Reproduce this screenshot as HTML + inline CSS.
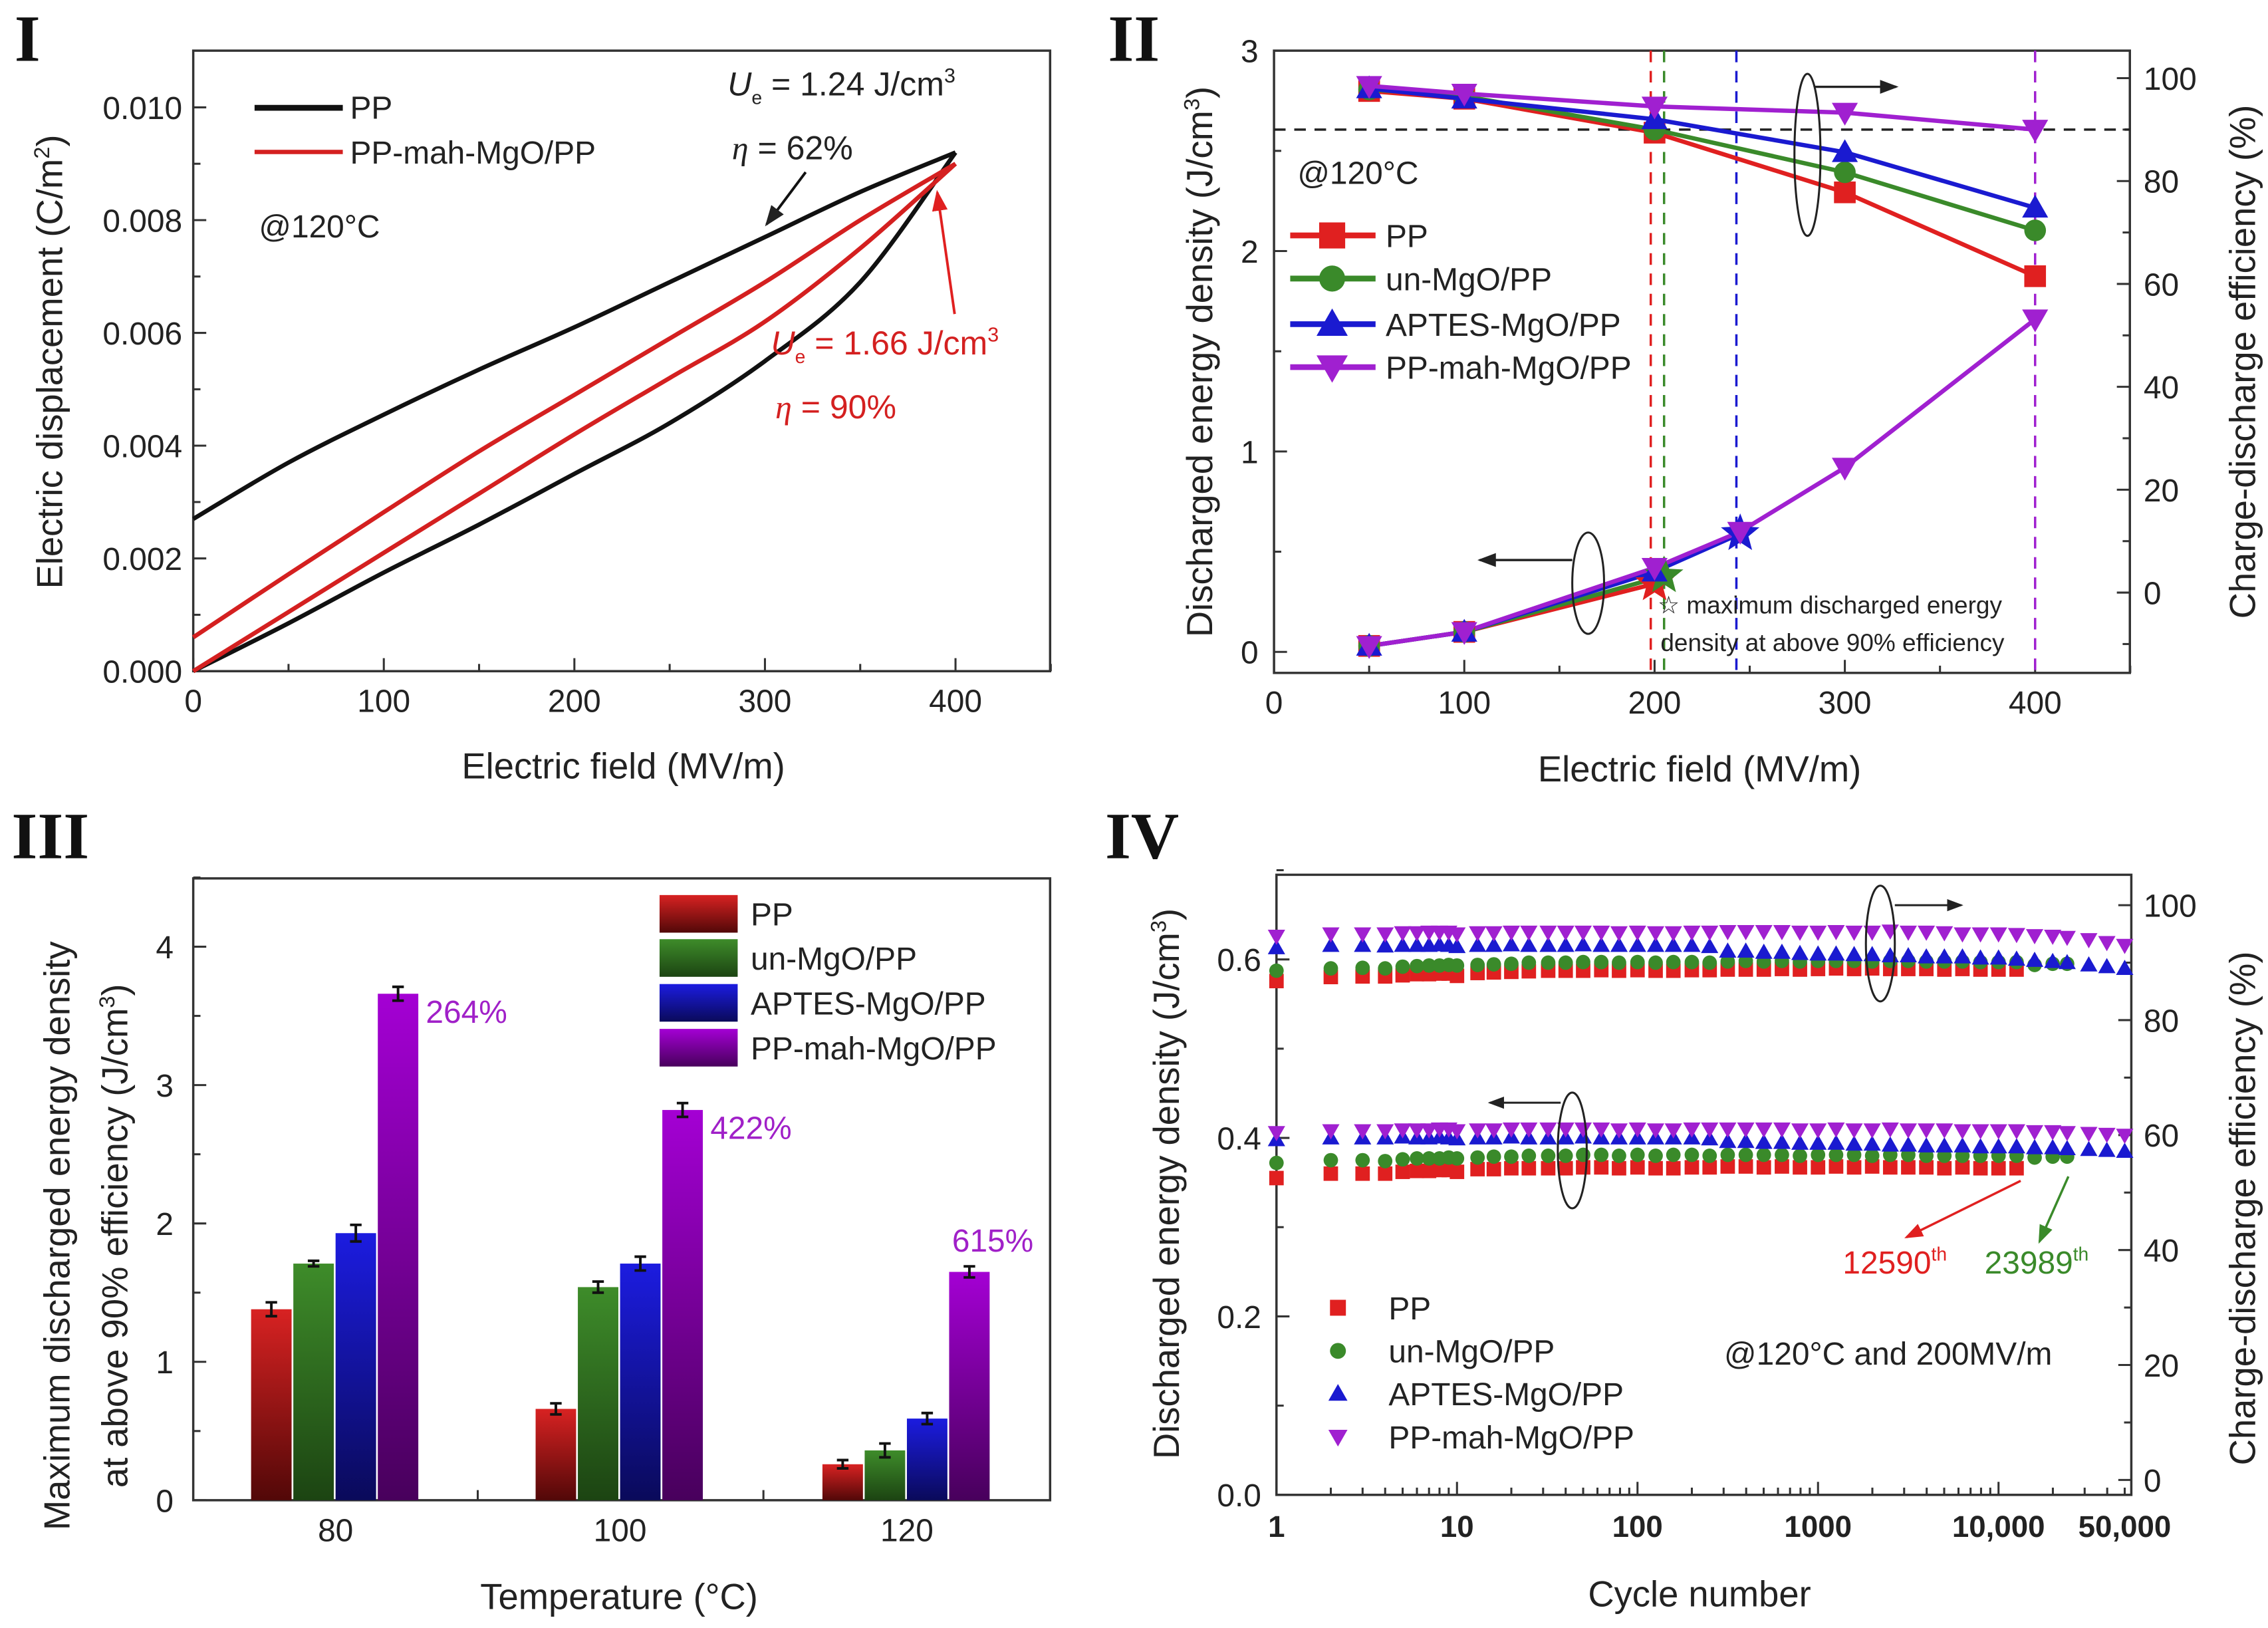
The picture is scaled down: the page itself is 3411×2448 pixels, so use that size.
<!DOCTYPE html>
<html><head><meta charset="utf-8"><style>
html,body{margin:0;padding:0;background:#fff;}
svg{display:block;}
text{font-family:"Liberation Sans",sans-serif;fill:#222;}
.lab{font-family:"Liberation Serif",serif;font-weight:bold;fill:#111;}
</style></head><body>
<svg id="fig" width="3411" height="2448" viewBox="0 0 1568 1125" preserveAspectRatio="none" xmlns="http://www.w3.org/2000/svg">
<defs>
<linearGradient id="gR" x1="0" y1="0" x2="0" y2="1"><stop offset="0" stop-color="#d82222"/><stop offset="1" stop-color="#520808"/></linearGradient>
<linearGradient id="gG" x1="0" y1="0" x2="0" y2="1"><stop offset="0" stop-color="#3e8c2a"/><stop offset="1" stop-color="#1c4412"/></linearGradient>
<linearGradient id="gB" x1="0" y1="0" x2="0" y2="1"><stop offset="0" stop-color="#1c1ce0"/><stop offset="1" stop-color="#0a0a5a"/></linearGradient>
<linearGradient id="gP" x1="0" y1="0" x2="0" y2="1"><stop offset="0" stop-color="#a400d4"/><stop offset="1" stop-color="#48005c"/></linearGradient>
<marker id="ah" markerWidth="8" markerHeight="8" refX="7" refY="4" orient="auto"><path d="M0,1 L8,4 L0,7 Z" fill="#222"/></marker>
<marker id="ahr" markerWidth="8" markerHeight="8" refX="7" refY="4" orient="auto"><path d="M0,1 L8,4 L0,7 Z" fill="#e02020"/></marker>
<marker id="ahg" markerWidth="8" markerHeight="8" refX="7" refY="4" orient="auto"><path d="M0,1 L8,4 L0,7 Z" fill="#3a8a2a"/></marker>
</defs>
</svg>
<script>
// ===== Panel I data =====
const p1Fields=[0,50,100,150,200,250,300,350,400];
const p1PPup=[0.0027,0.0037,0.00455,0.00535,0.0061,0.0069,0.0077,0.0085,0.0092];
const p1PPdown=[0,0.00085,0.00175,0.0026,0.0035,0.0044,0.0055,0.0069,0.0092];
const p1MahUp=[0.0006,0.00172,0.00282,0.0039,0.0049,0.0059,0.0069,0.008,0.009];
const p1MahDown=[0,0.00105,0.0021,0.00315,0.0042,0.0052,0.0062,0.0075,0.009];
const p1XTicks=[0,100,200,300,400];
const p1YTicks=[0,0.002,0.004,0.006,0.008,0.010];
const p1YTickLabels=["0.000","0.002","0.004","0.006","0.008","0.010"];
// ===== Panel II data =====
const p2Fields=[50,100,200,300,400];
const p2EffPP=[97.5,96,89.4,77.8,61.5];
const p2EffUn=[97.8,96.5,90,81.7,70.4];
const p2EffAp=[98,96,92,85.6,74.8];
const p2EffMah=[98.5,97,94.5,93.3,90];
const p2EnPPx=[50,100,200]; const p2EnPP=[0.03,0.1,0.34];
const p2EnUnx=[50,100,205]; const p2EnUn=[0.03,0.1,0.38];
const p2EnApx=[50,100,200,245]; const p2EnAp=[0.03,0.1,0.4,0.59];
const p2EnMahx=[50,100,200,245,300,400]; const p2EnMah=[0.03,0.1,0.42,0.6,0.92,1.66];
const p2Limits=[198,205,243,400];
const p2XTicks=[0,100,200,300,400];
const p2LTicks=[0,1,2,3];
const p2RTicks=[0,20,40,60,80,100];
// ===== Panel III data =====
const p3Temps=["80","100","120"];
const p3PP=[1.38,0.66,0.26];
const p3Un=[1.71,1.54,0.36];
const p3Ap=[1.93,1.71,0.59];
const p3Mah=[3.66,2.82,1.65];
const p3ErrPP=[0.05,0.04,0.03];
const p3ErrUn=[0.02,0.04,0.05];
const p3ErrAp=[0.06,0.05,0.04];
const p3ErrMah=[0.05,0.05,0.04];
const p3Pct=["264%","422%","615%"];
const p3YTicks=[0,1,2,3,4];
// ===== Panel IV data =====
const p4Cycles=[1,2,3,4,5,6,7,8,9,10,13,16,20,25,32,40,50,63,79,100,126,158,200,251,316,398,501,631,794,1000,1259,1585,1995,2512,3162,3981,5012,6310,7943,10000,12590,15849,19953,23989,31623,39811,50000];
const p4EnPP=[0.355,0.36,0.36,0.36,0.362,0.363,0.363,0.364,0.364,0.362,0.365,0.365,0.366,0.366,0.366,0.366,0.367,0.367,0.366,0.367,0.366,0.366,0.367,0.367,0.368,0.368,0.367,0.368,0.367,0.367,0.368,0.367,0.368,0.367,0.367,0.367,0.366,0.367,0.366,0.366,0.366];
const p4EnUn=[0.372,0.375,0.375,0.374,0.376,0.377,0.377,0.377,0.378,0.377,0.378,0.379,0.379,0.38,0.38,0.38,0.381,0.381,0.38,0.381,0.38,0.381,0.381,0.38,0.381,0.381,0.381,0.381,0.38,0.381,0.381,0.381,0.38,0.381,0.381,0.38,0.38,0.38,0.38,0.38,0.38,0.378,0.379,0.379];
const p4EnAp=[0.398,0.4,0.4,0.4,0.401,0.4,0.4,0.401,0.4,0.399,0.4,0.4,0.401,0.4,0.4,0.4,0.401,0.4,0.4,0.4,0.4,0.4,0.4,0.399,0.396,0.396,0.395,0.395,0.394,0.394,0.394,0.393,0.393,0.392,0.392,0.391,0.391,0.391,0.39,0.39,0.39,0.389,0.389,0.388,0.387,0.386,0.385];
const p4EnMah=[0.406,0.408,0.408,0.408,0.409,0.409,0.409,0.41,0.41,0.408,0.409,0.409,0.41,0.41,0.41,0.41,0.41,0.41,0.409,0.41,0.409,0.409,0.41,0.41,0.41,0.41,0.41,0.41,0.409,0.409,0.41,0.409,0.409,0.41,0.409,0.409,0.409,0.408,0.408,0.408,0.408,0.407,0.407,0.406,0.405,0.404,0.403];
const p4EfPP=[86.8,87.5,87.6,87.6,87.8,88,88,88.1,88.1,87.7,88.2,88.3,88.4,88.5,88.6,88.6,88.6,88.7,88.6,88.7,88.6,88.6,88.7,88.7,88.8,88.8,88.8,88.9,88.8,88.9,89,88.9,89,88.9,88.9,88.9,88.8,88.9,88.8,88.8,88.8];
const p4EfUn=[88.6,89,89.1,89,89.3,89.4,89.5,89.5,89.6,89.5,89.6,89.7,89.8,90,90,90,90.1,90.1,90,90.1,90,90.1,90.1,90,90.2,90.3,90.2,90.3,90.2,90.3,90.3,90.3,90.2,90.3,90.3,90.2,90.2,90.2,90.1,90.1,90.1,89.6,89.8,89.8];
const p4EfAp=[92.6,93,93,92.9,93,93,93,93.1,93,92.8,93,93,93.1,93,93,93,93.1,93,93,93,93,93,93,92.8,92,92,91.8,91.8,91.6,91.5,91.5,91.4,91.4,91.2,91.2,91,91,91,90.8,90.8,90.6,90.4,90.2,90,89.6,89.3,89];
const p4EfMah=[94.6,95,95,95,95.2,95.2,95.3,95.3,95.3,95,95.2,95.2,95.3,95.3,95.3,95.3,95.3,95.3,95.2,95.3,95.2,95.2,95.3,95.3,95.4,95.4,95.4,95.4,95.3,95.3,95.4,95.3,95.3,95.5,95.3,95.3,95.2,95,95,95,94.9,94.7,94.6,94.4,94,93.5,93];
const p4XTicks=[1,10,100,1000,10000,50000];
const p4XTickLabels=["1","10","100","1000","10,000","50,000"];
const p4LTicks=[0,0.2,0.4,0.6];
const p4LTickLabels=["0.0","0.2","0.4","0.6"];
const p4RTicks=[0,20,40,60,80,100];

const NS="http://www.w3.org/2000/svg";
const svg=document.getElementById('fig');
function el(tag,attrs,parent){const e=document.createElementNS(NS,tag);for(const k in attrs)e.setAttribute(k,attrs[k]);(parent||svg).appendChild(e);return e;}
function txt(s,x,y,size,attrs,parent){const t=el('text',Object.assign({x:x,y:y,'font-size':size},attrs||{}),parent);t.textContent=s;return t;}
function lin(d0,d1,r0,r1){return v=>r0+(v-d0)/(d1-d0)*(r1-r0);}
function smooth(pts){let d="M"+pts[0][0]+","+pts[0][1];for(let i=0;i<pts.length-1;i++){const p0=pts[i-1]||pts[i],p1=pts[i],p2=pts[i+1],p3=pts[i+2]||p2;d+=" C"+(p1[0]+(p2[0]-p0[0])/6)+","+(p1[1]+(p2[1]-p0[1])/6)+" "+(p2[0]-(p3[0]-p1[0])/6)+","+(p2[1]-(p3[1]-p1[1])/6)+" "+p2[0]+","+p2[1];}return d;}
function frame(x0,y0,x1,y1,g){const r=el('rect',{x:x0,y:y0,width:x1-x0,height:y1-y0,fill:'none',stroke:'#333','stroke-width':1.6},g);}
function tick(x1,y1,x2,y2,g){el('line',{x1:x1,y1:y1,x2:x2,y2:y2,stroke:'#333','stroke-width':1.4},g);}
function marker(shape,x,y,s,color,g){
  let m;
  if(shape==='sq')m=el('rect',{x:x-s/2,y:y-s/2,width:s,height:s,fill:color},g);
  else if(shape==='ci')m=el('circle',{cx:x,cy:y,r:s/2,fill:color},g);
  else if(shape==='tu')m=el('polygon',{points:`${x},${y-s*0.6} ${x-s*0.6},${y+s*0.45} ${x+s*0.6},${y+s*0.45}`,fill:color},g);
  else if(shape==='td')m=el('polygon',{points:`${x},${y+s*0.6} ${x-s*0.6},${y-s*0.45} ${x+s*0.6},${y-s*0.45}`,fill:color},g);
  else {let p=[];for(let i=0;i<10;i++){const a=-Math.PI/2+i*Math.PI/5,r=i%2?s*0.3:s*0.7;p.push((x+r*Math.cos(a))+","+(y+r*Math.sin(a)));}m=el('polygon',{points:p.join(' '),fill:color},g);}
  return m;
}
function panelLabel(s,x,y){const t=txt(s,x,y,46,{class:'lab'});}

// ================= PANEL I =================
(function(){
const g=el('g',{});
const X0=133.6,X1=726,Y0=35,Y1=463.8;
const xs=lin(0,400,133.6,660.6), ys=lin(0,0.010,463.8,74.2);
frame(X0,Y0,X1,Y1,g);
for(let v=0;v<=450;v+=50){const x=xs(v);tick(x,Y1,x,Y1-(v%100?5:9),g);}
for(let v=0;v<=0.0105;v+=0.001){const y=ys(v);tick(X0,y,X0+(Math.round(v*1000)%2?5:9),y,g);}
p1XTicks.forEach(v=>{const t=txt(String(v),xs(v),492,22,{'text-anchor':'middle'},g);});
p1YTicks.forEach((v,i)=>{const t=txt(p1YTickLabels[i],126,ys(v)+8,22,{'text-anchor':'end'},g);});
let t=txt('Electric field (MV/m)',431,538,25,{'text-anchor':'middle'},g);
t=el('text',{x:0,y:0,'font-size':25,'text-anchor':'middle',transform:'translate(43,250) rotate(-90)'},g);t.innerHTML='Electric displacement (C/m<tspan font-size="15" dy="-9">2</tspan><tspan dy="9">)</tspan>';
const series=[[p1PPup,'#111','pp-discharge-curve'],[p1PPdown,'#111','pp-charge-curve'],[p1MahUp,'#d42020','mah-discharge-curve'],[p1MahDown,'#d42020','mah-charge-curve']];
series.forEach(s=>{const p=el('path',{d:smooth(p1Fields.map((f,i)=>[xs(f),ys(s[0][i])])),fill:'none',stroke:s[1],'stroke-width':3},g);});
let l=el('line',{x1:176,y1:74.5,x2:237,y2:74.5,stroke:'#111','stroke-width':4},g);
t=txt('PP',242,82,22,{},g);
l=el('line',{x1:176,y1:105,x2:237,y2:105,stroke:'#d42020','stroke-width':3},g);
t=txt('PP-mah-MgO/PP',242,113,22,{},g);
t=txt('@120°C',179,164,22,{},g);
t=el('text',{x:503,y:66,'font-size':23},g);t.innerHTML='<tspan font-style="italic">U</tspan><tspan font-size="13" dy="6">e</tspan><tspan dy="-6"> = 1.24 J/cm</tspan><tspan font-size="14" dy="-9">3</tspan>';
t=el('text',{x:506,y:110,'font-size':23},g);t.innerHTML='<tspan font-style="italic" font-family="Liberation Serif">η</tspan> = 62%';
l=el('line',{x1:557,y1:119,x2:530,y2:155,stroke:'#111','stroke-width':1.8,'marker-end':'url(#ah)'},g);
t=el('text',{x:533,y:245,'font-size':23,fill:'#d42020'},g);t.innerHTML='<tspan font-style="italic" fill="#d42020">U</tspan><tspan font-size="13" dy="6" fill="#d42020">e</tspan><tspan dy="-6" fill="#d42020"> = 1.66 J/cm</tspan><tspan font-size="14" dy="-9" fill="#d42020">3</tspan>';t.style.fill='#d42020';
t=el('text',{x:536,y:289,'font-size':23},g);t.innerHTML='<tspan font-style="italic" font-family="Liberation Serif" fill="#d42020">η</tspan><tspan fill="#d42020"> = 90%</tspan>';
l=el('line',{x1:660,y1:217,x2:648,y2:133,stroke:'#e02020','stroke-width':1.8,'marker-end':'url(#ahr)'},g);
})();
panelLabel('I',10,42);

// ================= PANEL II =================
(function(){
const g=el('g',{});
const X0=880.8,X1=1472.5,Y0=35,Y1=465;
const xs=lin(0,400,880.8,1407), yl=lin(0,3,450.5,35), yr=lin(0,100,409.5,54);
frame(X0,Y0,X1,Y1,g);
for(let v=0;v<=450;v+=50){const x=xs(v);tick(x,Y1,x,Y1-(v%100?5:9),g);}
for(let v=0;v<=3;v+=0.5){const y=yl(v);tick(X0,y,X0+(v%1?5:9),y,g);}
for(let v=-10;v<=100;v+=10){const y=yr(v);tick(X1,y,X1-(v%20?5:9),y,g);}
p2XTicks.forEach(v=>{const t=txt(String(v),xs(v),493,22,{'text-anchor':'middle'},g);});
p2LTicks.forEach(v=>{const t=txt(String(v),870,yl(v)+8,22,{'text-anchor':'end'},g);});
p2RTicks.forEach(v=>{const t=txt(String(v),1482,yr(v)+8,22,{},g);});
let t=txt('Electric field (MV/m)',1175,540,25,{'text-anchor':'middle'},g);
t=el('text',{x:0,y:0,'font-size':25,'text-anchor':'middle',transform:'translate(838,250) rotate(-90)'},g);t.innerHTML='Discharged energy density (J/cm<tspan font-size="15" dy="-9">3</tspan><tspan dy="9">)</tspan>';
t=el('text',{x:0,y:0,'font-size':25,'text-anchor':'middle',transform:'translate(1559,250) rotate(-90)'},g);t.textContent='Charge-discharge efficiency (%)';
let l=el('line',{x1:X0,y1:yr(90),x2:X1,y2:yr(90),stroke:'#222','stroke-width':1.6,'stroke-dasharray':'8,6'},g);
const lc=['#e02020','#3a8a2a','#1a1ad0','#a020d0'];
p2Limits.forEach((v,i)=>{const d=el('line',{x1:xs(v),y1:Y0,x2:xs(v),y2:Y1,stroke:lc[i],'stroke-width':1.6,'stroke-dasharray':'8,6'},g);});
const cols=['#e02020','#3a8a2a','#1a1ad0','#a020d0'];
const shapes=['sq','ci','tu','td'];
const eff=[p2EffPP,p2EffUn,p2EffAp,p2EffMah];
const names=['pp','un-mgo','aptes-mgo','mah-mgo'];
eff.forEach((s,k)=>{const p=el('polyline',{points:p2Fields.map((f,i)=>xs(f)+','+yr(s[i])).join(' '),fill:'none',stroke:cols[k],'stroke-width':3},g);
 p2Fields.forEach((f,i)=>{const m=marker(shapes[k],xs(f),yr(s[i]),15,cols[k],g);});});
const enx=[p2EnPPx,p2EnUnx,p2EnApx,p2EnMahx], eny=[p2EnPP,p2EnUn,p2EnAp,p2EnMah];
enx.forEach((xsr,k)=>{const p=el('polyline',{points:xsr.map((f,i)=>xs(f)+','+yl(eny[k][i])).join(' '),fill:'none',stroke:cols[k],'stroke-width':3},g);});
enx.forEach((xsr,k)=>{xsr.forEach((f,i)=>{const last=(i===xsr.length-1&&k<3);const m=marker(last?'st':shapes[k],xs(f),yl(eny[k][i]),last?20:15,cols[k],g);});});
const ln=['PP','un-MgO/PP','APTES-MgO/PP','PP-mah-MgO/PP'], ly=[162.7,192.5,224,253.7];
ln.forEach((s,k)=>{const a=el('line',{x1:892,y1:ly[k],x2:951,y2:ly[k],stroke:cols[k],'stroke-width':4},g);
 const m=marker(shapes[k],921,ly[k],18,cols[k],g);
 const tt=txt(s,958,ly[k]+8,22,{},g);});
t=txt('@120°C',897,127,22,{},g);
t=txt('☆ maximum discharged energy',1146,424,17,{},g);
t=txt('density at above 90% efficiency',1148,450,17,{},g);
let e=el('ellipse',{cx:1249.6,cy:107,rx:9,ry:56,fill:'none',stroke:'#222','stroke-width':1.4},g);
l=el('line',{x1:1255,y1:60,x2:1311,y2:60,stroke:'#222','stroke-width':1.6,'marker-end':'url(#ah)'},g);
e=el('ellipse',{cx:1098,cy:403,rx:11,ry:35,fill:'none',stroke:'#222','stroke-width':1.4},g);
l=el('line',{x1:1087,y1:387,x2:1023,y2:387,stroke:'#222','stroke-width':1.6,'marker-end':'url(#ah)'},g);
})();
panelLabel('II',766,42);

// ================= PANEL III =================
(function(){
const g=el('g',{});
const X0=133.6,X1=726,Y0=607,Y1=1036.7;
const ys=lin(0,4,1036.7,654.2);
const cx=[232,428.7,627];
frame(X0,Y0,X1,Y1,g);
for(let v=0;v<=4.5;v+=0.5){const y=ys(v);tick(X0,y,X0+(v%1?5:9),y,g);}
[330.3,527.8].forEach(x=>tick(x,Y1,x,Y1-7,g));
p3YTicks.forEach(v=>{const t=txt(String(v),120,ys(v)+8,22,{'text-anchor':'end'},g);});
p3Temps.forEach((s,i)=>{const t=txt(s,cx[i],1065,22,{'text-anchor':'middle'},g);});
let t=el('text',{x:428,y:1112,'font-size':25,'text-anchor':'middle'},g);t.textContent='Temperature (°C)';
t=el('text',{x:0,y:0,'font-size':25,'text-anchor':'middle',transform:'translate(48,854) rotate(-90)'},g);t.textContent='Maximum discharged energy density';
t=el('text',{x:0,y:0,'font-size':25,'text-anchor':'middle',transform:'translate(88,854) rotate(-90)'},g);t.innerHTML='at above 90% efficiency (J/cm<tspan font-size="15" dy="-9">3</tspan><tspan dy="9">)</tspan>';
const vals=[p3PP,p3Un,p3Ap,p3Mah], errs=[p3ErrPP,p3ErrUn,p3ErrAp,p3ErrMah], fills=['url(#gR)','url(#gG)','url(#gB)','url(#gP)'];
const names=['pp','un-mgo','aptes-mgo','mah-mgo'];
const step=29.2,bw=28;
p3Temps.forEach((s,i)=>{vals.forEach((ser,k)=>{const x=cx[i]-2*step+k*step;const y=ys(ser[i]);
 const r=el('rect',{x:x,y:y,width:bw,height:Y1-y,fill:fills[k]},g);
 const m=x+bw/2,eh=errs[k][i];const e=el('path',{d:`M${m},${ys(ser[i]+eh)} V${ys(ser[i]-eh)} M${m-4},${ys(ser[i]+eh)} H${m+4} M${m-4},${ys(ser[i]-eh)} H${m+4}`,stroke:'#111','stroke-width':1.8,fill:'none'},g);});
 const tt=txt(p3Pct[i],0,0,22,{fill:'#a020c8'},g);tt.style.fill='#a020c8';
 tt.setAttribute('x',i<2?cx[i]+2*step+4:cx[i]+step+2);tt.setAttribute('y',i<2?ys(p3Mah[i])+20:ys(p3Mah[i])-14);});
const ln=['PP','un-MgO/PP','APTES-MgO/PP','PP-mah-MgO/PP'],ly=[618.5,649,680,711];
ln.forEach((s,k)=>{const r=el('rect',{x:456,y:ly[k],width:54,height:26,fill:fills[k]},g);
 const tt=txt(s,519,ly[k]+21,22,{},g);});
})();
panelLabel('III',8,593);

// ================= PANEL IV =================
(function(){
const g=el('g',{});
const X0=882.5,X1=1473.5,Y0=604.5,Y1=1033;
const xs=v=>882.5+Math.log10(v)*124.8, yl=lin(0,0.6,1033,663), yr=lin(0,100,1022.7,625.5);
frame(X0,Y0,X1,Y1,g);
for(let d=1;d<=10000;d*=10){for(let m=1;m<10;m++){const v=d*m;if(v>50000)break;tick(xs(v),Y1,xs(v),Y1-(m===1?9:5),g);}}
for(let v=0;v<=0.7;v+=0.1){const y=yl(v);tick(X0,y,X0+(Math.round(v*10)%2?5:9),y,g);}
for(let v=0;v<=100;v+=10){const y=yr(v);tick(X1,y,X1-(v%20?5:9),y,g);}
p4XTicks.forEach((v,i)=>{const t=txt(p4XTickLabels[i],xs(v),1062,21,{'text-anchor':'middle','font-family':'Liberation Serif','font-weight':'bold'},g);});
p4LTicks.forEach((v,i)=>{const t=txt(p4LTickLabels[i],872,yl(v)+8,22,{'text-anchor':'end'},g);});
p4RTicks.forEach(v=>{const t=txt(String(v),1482,yr(v)+8,22,{},g);});
let t=txt('Cycle number',1175,1110,25,{'text-anchor':'middle'},g);
t=el('text',{x:0,y:0,'font-size':25,'text-anchor':'middle',transform:'translate(815,818) rotate(-90)'},g);t.innerHTML='Discharged energy  density (J/cm<tspan font-size="15" dy="-9">3</tspan><tspan dy="9">)</tspan>';
t=el('text',{x:0,y:0,'font-size':25,'text-anchor':'middle',transform:'translate(1559,835) rotate(-90)'},g);t.textContent='Charge-discharge efficiency (%)';
const cols=['#e02020','#3a8a2a','#1a1ad0','#a020d0'], shapes=['sq','ci','tu','td'], names=['pp','un-mgo','aptes-mgo','mah-mgo'];
const en=[p4EnPP,p4EnUn,p4EnAp,p4EnMah], ef=[p4EfPP,p4EfUn,p4EfAp,p4EfMah];
for(let k=0;k<4;k++){
 en[k].forEach((v,i)=>{const m=marker(shapes[k],xs(p4Cycles[i]),yl(v),10,cols[k],g);});
 ef[k].forEach((v,i)=>{const m=marker(shapes[k],xs(p4Cycles[i]),yr(v),10,cols[k],g);});
}
const ln=['PP','un-MgO/PP','APTES-MgO/PP','PP-mah-MgO/PP'],ly=[903.7,933.5,963,993];
ln.forEach((s,k)=>{const m=marker(shapes[k],925,ly[k],11,cols[k],g);
 const tt=txt(s,960,ly[k]+8,22,{},g);});
t=txt('@120°C and 200MV/m',1192,943,22,{},g);
t=el('text',{x:1274,y:880,'font-size':22},g);t.innerHTML='<tspan fill="#e02020">12590</tspan><tspan fill="#e02020" font-size="13" dy="-9">th</tspan>';
t=el('text',{x:1372,y:880,'font-size':22},g);t.innerHTML='<tspan fill="#3a8a2a">23989</tspan><tspan fill="#3a8a2a" font-size="13" dy="-9">th</tspan>';
let l=el('line',{x1:1397,y1:816,x2:1318,y2:855,stroke:'#e02020','stroke-width':1.6,'marker-end':'url(#ahr)'},g);
l=el('line',{x1:1430,y1:813,x2:1410,y2:858,stroke:'#3a8a2a','stroke-width':1.6,'marker-end':'url(#ahg)'},g);
let e=el('ellipse',{cx:1300,cy:652,rx:10,ry:40,fill:'none',stroke:'#222','stroke-width':1.4},g);
l=el('line',{x1:1310,y1:625.5,x2:1356,y2:625.5,stroke:'#222','stroke-width':1.4,'marker-end':'url(#ah)'},g);
e=el('ellipse',{cx:1087,cy:795,rx:10,ry:40,fill:'none',stroke:'#222','stroke-width':1.4},g);
l=el('line',{x1:1079,y1:762,x2:1030,y2:762,stroke:'#222','stroke-width':1.4,'marker-end':'url(#ah)'},g);
})();
panelLabel('IV',764,593);
</script>
</body></html>
